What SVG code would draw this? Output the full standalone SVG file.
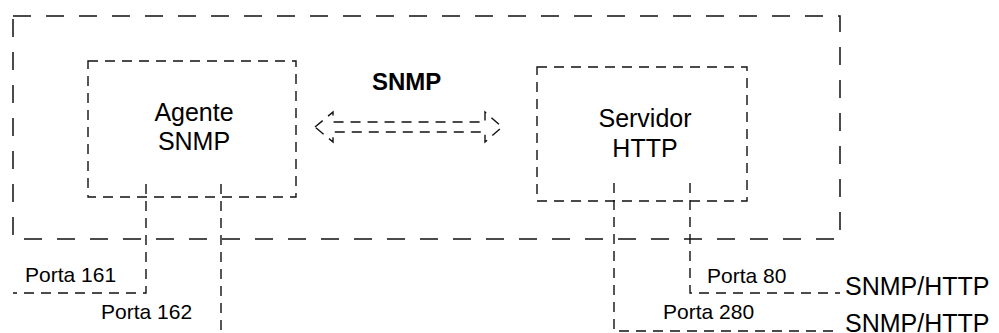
<svg xmlns="http://www.w3.org/2000/svg" width="999" height="333" viewBox="0 0 999 333">
  <style>
    .frame { fill: none; stroke: #111; stroke-width: 1.5; stroke-dasharray: 18 15; }
    .box { fill: none; stroke: #111; stroke-width: 1.4; stroke-dasharray: 10 7; }
    .link { fill: none; stroke: #111; stroke-width: 1.4; stroke-dasharray: 10 7; }
    .label { font-family: "Liberation Sans", Arial, sans-serif; font-size: 25px; fill: #000; }
    .port { font-family: "Liberation Sans", Arial, sans-serif; font-size: 21px; fill: #000; }
    .proto { font-family: "Liberation Sans", Arial, sans-serif; font-size: 24px; font-weight: bold; fill: #000; }
  </style>
  <rect width="999" height="333" fill="#fff"/>

  <!-- enclosing host frame -->
  <g id="host">
    <path class="frame" d="M13,16 H840 V239 H13 Z"/>
  </g>

  <g id="agente">
    <rect class="box" x="88" y="61" width="208" height="136"/>
    <text class="label" x="194" y="121" text-anchor="middle">Agente</text>
    <text class="label" x="194" y="150" text-anchor="middle">SNMP</text>
  </g>

  <g id="servidor">
    <rect class="box" x="537" y="67" width="210" height="134"/>
    <text class="label" x="645" y="127" text-anchor="middle">Servidor</text>
    <text class="label" x="645" y="157" text-anchor="middle">HTTP</text>
  </g>

  <g id="protocolo">
    <text class="proto" x="372" y="90">SNMP</text>
  </g>

  <g id="connectors">
    <!-- two-way SNMP exchange between agent and server -->
    <path class="link" d="M315,127 L333,112 V122 H485 V112 L502,127 L485,142 V132 H333 V142 Z" stroke-dasharray="9 6"/>
    <!-- agent ports -->
    <path class="link" d="M146,184 V293 H13"/>
    <path class="link" d="M221,184 V333"/>
    <!-- server ports -->
    <path class="link" d="M690,183 V293 H840"/>
    <path class="link" d="M614,183 V331 H840"/>
  </g>

  <g id="portas">
    <text class="port" x="25" y="282">Porta 161</text>
    <text class="port" x="101" y="319">Porta 162</text>
    <text class="port" x="707" y="283">Porta 80</text>
    <text class="port" x="663" y="319">Porta 280</text>
    <text class="label" x="845" y="295">SNMP/HTTP</text>
    <text class="label" x="845" y="332">SNMP/HTTP</text>
  </g>
</svg>
